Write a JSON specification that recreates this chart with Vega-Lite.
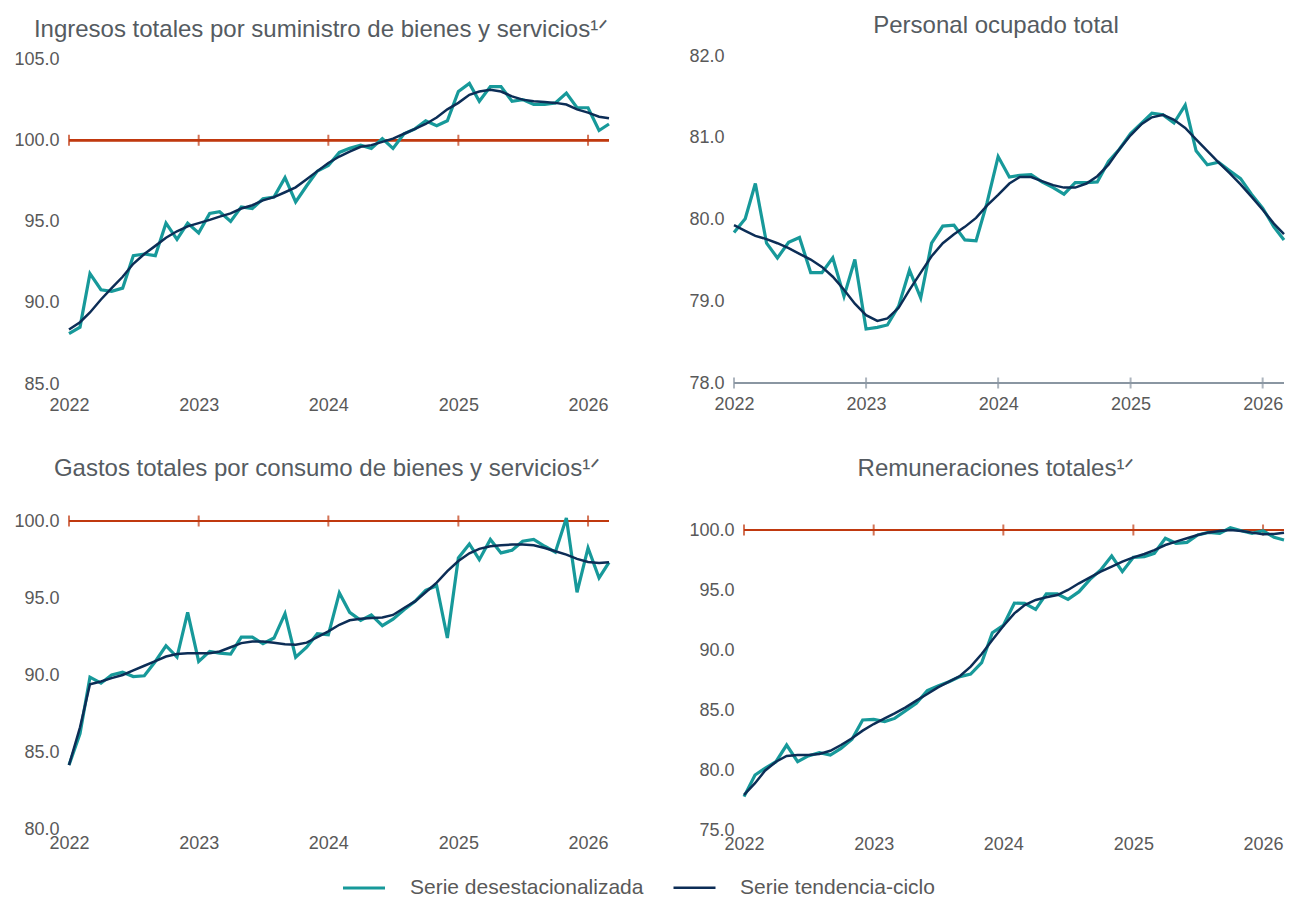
{
"$schema": "https://vega.github.io/schema/vega-lite/v6.json",
"padding": {"left": 13, "top": 14, "right": 0, "bottom": 0},
"autosize": {"type": "pad"},
"background": "white",
"spacing": 465,
"bounds": "flush",
"config": {
  "font": "Liberation Sans",
  "view": {"stroke": null},
  "title": {"fontSize": 24, "fontWeight": "normal", "color": "#555b61", "baseline": "alphabetic", "anchor": "middle"},
  "axisY": {"domain": false, "ticks": false, "gridDash": [2, 2], "gridColor": "#c4c9d1", "gridWidth": 1, "labelFontSize": 18, "labelColor": "#595959", "labelPadding": 10, "format": ".1f", "title": null},
  "axisX": {"grid": false, "domain": false, "ticks": false, "labelFontSize": 18, "labelColor": "#595959", "labelPadding": 12, "format": "%Y", "labelFlush": false, "title": null}
},
"datasets": {
  "years": [{"d": "2022-01-01"}, {"d": "2023-01-01"}, {"d": "2024-01-01"}, {"d": "2025-01-01"}, {"d": "2026-01-01"}],
  "series": [
{"d":"2022-01-01","serie":"Serie desestacionalizada","ing":88.1,"per":79.84,"gas":84.15,"rem":77.78},
{"d":"2022-02-01","serie":"Serie desestacionalizada","ing":88.5,"per":80.01,"gas":86.2,"rem":79.58},
{"d":"2022-03-01","serie":"Serie desestacionalizada","ing":91.8,"per":80.44,"gas":89.86,"rem":80.14},
{"d":"2022-04-01","serie":"Serie desestacionalizada","ing":90.8,"per":79.71,"gas":89.47,"rem":80.69},
{"d":"2022-05-01","serie":"Serie desestacionalizada","ing":90.7,"per":79.53,"gas":90.0,"rem":82.08},
{"d":"2022-06-01","serie":"Serie desestacionalizada","ing":90.9,"per":79.72,"gas":90.18,"rem":80.69},
{"d":"2022-07-01","serie":"Serie desestacionalizada","ing":92.9,"per":79.78,"gas":89.9,"rem":81.17},
{"d":"2022-08-01","serie":"Serie desestacionalizada","ing":93.0,"per":79.35,"gas":89.95,"rem":81.44},
{"d":"2022-09-01","serie":"Serie desestacionalizada","ing":92.9,"per":79.35,"gas":90.88,"rem":81.25},
{"d":"2022-10-01","serie":"Serie desestacionalizada","ing":94.9,"per":79.53,"gas":91.9,"rem":81.8},
{"d":"2022-11-01","serie":"Serie desestacionalizada","ing":93.9,"per":79.06,"gas":91.16,"rem":82.56},
{"d":"2022-12-01","serie":"Serie desestacionalizada","ing":94.9,"per":79.51,"gas":94.07,"rem":84.17},
{"d":"2023-01-01","serie":"Serie desestacionalizada","ing":94.3,"per":78.66,"gas":90.88,"rem":84.22},
{"d":"2023-02-01","serie":"Serie desestacionalizada","ing":95.5,"per":78.68,"gas":91.53,"rem":84.03},
{"d":"2023-03-01","serie":"Serie desestacionalizada","ing":95.6,"per":78.71,"gas":91.42,"rem":84.3},
{"d":"2023-04-01","serie":"Serie desestacionalizada","ing":95.0,"per":78.94,"gas":91.36,"rem":84.94},
{"d":"2023-05-01","serie":"Serie desestacionalizada","ing":95.9,"per":79.38,"gas":92.46,"rem":85.56},
{"d":"2023-06-01","serie":"Serie desestacionalizada","ing":95.8,"per":79.04,"gas":92.46,"rem":86.61},
{"d":"2023-07-01","serie":"Serie desestacionalizada","ing":96.4,"per":79.71,"gas":92.03,"rem":87.0},
{"d":"2023-08-01","serie":"Serie desestacionalizada","ing":96.5,"per":79.92,"gas":92.4,"rem":87.36},
{"d":"2023-09-01","serie":"Serie desestacionalizada","ing":97.7,"per":79.93,"gas":93.98,"rem":87.78},
{"d":"2023-10-01","serie":"Serie desestacionalizada","ing":96.2,"per":79.75,"gas":91.16,"rem":88.0},
{"d":"2023-11-01","serie":"Serie desestacionalizada","ing":97.2,"per":79.74,"gas":91.81,"rem":88.94},
{"d":"2023-12-01","serie":"Serie desestacionalizada","ing":98.1,"per":80.2,"gas":92.68,"rem":91.44},
{"d":"2024-01-01","serie":"Serie desestacionalizada","ing":98.45,"per":80.77,"gas":92.61,"rem":92.05},
{"d":"2024-02-01","serie":"Serie desestacionalizada","ing":99.25,"per":80.52,"gas":95.33,"rem":93.9},
{"d":"2024-03-01","serie":"Serie desestacionalizada","ing":99.5,"per":80.54,"gas":94.07,"rem":93.89},
{"d":"2024-04-01","serie":"Serie desestacionalizada","ing":99.7,"per":80.55,"gas":93.55,"rem":93.39},
{"d":"2024-05-01","serie":"Serie desestacionalizada","ing":99.5,"per":80.46,"gas":93.9,"rem":94.67},
{"d":"2024-06-01","serie":"Serie desestacionalizada","ing":100.1,"per":80.39,"gas":93.2,"rem":94.67},
{"d":"2024-07-01","serie":"Serie desestacionalizada","ing":99.5,"per":80.31,"gas":93.63,"rem":94.22},
{"d":"2024-08-01","serie":"Serie desestacionalizada","ing":100.4,"per":80.45,"gas":94.24,"rem":94.86},
{"d":"2024-09-01","serie":"Serie desestacionalizada","ing":100.7,"per":80.45,"gas":94.78,"rem":95.89},
{"d":"2024-10-01","serie":"Serie desestacionalizada","ing":101.2,"per":80.46,"gas":95.5,"rem":96.67},
{"d":"2024-11-01","serie":"Serie desestacionalizada","ing":100.9,"per":80.71,"gas":95.8,"rem":97.83},
{"d":"2024-12-01","serie":"Serie desestacionalizada","ing":101.2,"per":80.86,"gas":92.4,"rem":96.53},
{"d":"2025-01-01","serie":"Serie desestacionalizada","ing":103.0,"per":81.05,"gas":97.6,"rem":97.72},
{"d":"2025-02-01","serie":"Serie desestacionalizada","ing":103.5,"per":81.18,"gas":98.51,"rem":97.78},
{"d":"2025-03-01","serie":"Serie desestacionalizada","ing":102.4,"per":81.3,"gas":97.49,"rem":98.06},
{"d":"2025-04-01","serie":"Serie desestacionalizada","ing":103.3,"per":81.28,"gas":98.8,"rem":99.31},
{"d":"2025-05-01","serie":"Serie desestacionalizada","ing":103.3,"per":81.18,"gas":97.93,"rem":98.89},
{"d":"2025-06-01","serie":"Serie desestacionalizada","ing":102.4,"per":81.4,"gas":98.1,"rem":98.97},
{"d":"2025-07-01","serie":"Serie desestacionalizada","ing":102.5,"per":80.84,"gas":98.69,"rem":99.58},
{"d":"2025-08-01","serie":"Serie desestacionalizada","ing":102.2,"per":80.67,"gas":98.8,"rem":99.8},
{"d":"2025-09-01","serie":"Serie desestacionalizada","ing":102.2,"per":80.7,"gas":98.36,"rem":99.72},
{"d":"2025-10-01","serie":"Serie desestacionalizada","ing":102.3,"per":80.6,"gas":97.97,"rem":100.19},
{"d":"2025-11-01","serie":"Serie desestacionalizada","ing":102.9,"per":80.5,"gas":100.2,"rem":99.94},
{"d":"2025-12-01","serie":"Serie desestacionalizada","ing":102.0,"per":80.31,"gas":95.37,"rem":99.72},
{"d":"2026-01-01","serie":"Serie desestacionalizada","ing":102.0,"per":80.14,"gas":98.25,"rem":99.94},
{"d":"2026-02-01","serie":"Serie desestacionalizada","ing":100.6,"per":79.91,"gas":96.3,"rem":99.39},
{"d":"2026-03-01","serie":"Serie desestacionalizada","ing":101.0,"per":79.75,"gas":97.32,"rem":99.17},
{"d":"2022-01-01","serie":"Serie tendencia-ciclo","ing":88.35,"per":79.93,"gas":84.15,"rem":77.92},
{"d":"2022-02-01","serie":"Serie tendencia-ciclo","ing":88.8,"per":79.86,"gas":86.6,"rem":78.9},
{"d":"2022-03-01","serie":"Serie tendencia-ciclo","ing":89.4,"per":79.8,"gas":89.4,"rem":79.94},
{"d":"2022-04-01","serie":"Serie tendencia-ciclo","ing":90.2,"per":79.76,"gas":89.58,"rem":80.69},
{"d":"2022-05-01","serie":"Serie tendencia-ciclo","ing":90.9,"per":79.71,"gas":89.8,"rem":81.17},
{"d":"2022-06-01","serie":"Serie tendencia-ciclo","ing":91.6,"per":79.65,"gas":90.0,"rem":81.25},
{"d":"2022-07-01","serie":"Serie tendencia-ciclo","ing":92.4,"per":79.58,"gas":90.3,"rem":81.25},
{"d":"2022-08-01","serie":"Serie tendencia-ciclo","ing":93.0,"per":79.51,"gas":90.6,"rem":81.33},
{"d":"2022-09-01","serie":"Serie tendencia-ciclo","ing":93.5,"per":79.42,"gas":90.9,"rem":81.6},
{"d":"2022-10-01","serie":"Serie tendencia-ciclo","ing":94.0,"per":79.3,"gas":91.2,"rem":82.08},
{"d":"2022-11-01","serie":"Serie tendencia-ciclo","ing":94.4,"per":79.14,"gas":91.36,"rem":82.64},
{"d":"2022-12-01","serie":"Serie tendencia-ciclo","ing":94.7,"per":78.97,"gas":91.42,"rem":83.28},
{"d":"2023-01-01","serie":"Serie tendencia-ciclo","ing":94.9,"per":78.83,"gas":91.42,"rem":83.83},
{"d":"2023-02-01","serie":"Serie tendencia-ciclo","ing":95.1,"per":78.76,"gas":91.42,"rem":84.3},
{"d":"2023-03-01","serie":"Serie tendencia-ciclo","ing":95.3,"per":78.79,"gas":91.53,"rem":84.72},
{"d":"2023-04-01","serie":"Serie tendencia-ciclo","ing":95.5,"per":78.92,"gas":91.8,"rem":85.22},
{"d":"2023-05-01","serie":"Serie tendencia-ciclo","ing":95.8,"per":79.14,"gas":92.07,"rem":85.78},
{"d":"2023-06-01","serie":"Serie tendencia-ciclo","ing":96.0,"per":79.35,"gas":92.18,"rem":86.33},
{"d":"2023-07-01","serie":"Serie tendencia-ciclo","ing":96.3,"per":79.55,"gas":92.18,"rem":86.89},
{"d":"2023-08-01","serie":"Serie tendencia-ciclo","ing":96.5,"per":79.71,"gas":92.1,"rem":87.36},
{"d":"2023-09-01","serie":"Serie tendencia-ciclo","ing":96.8,"per":79.82,"gas":92.0,"rem":87.83},
{"d":"2023-10-01","serie":"Serie tendencia-ciclo","ing":97.1,"per":79.91,"gas":91.96,"rem":88.61},
{"d":"2023-11-01","serie":"Serie tendencia-ciclo","ing":97.6,"per":80.02,"gas":92.1,"rem":89.67},
{"d":"2023-12-01","serie":"Serie tendencia-ciclo","ing":98.1,"per":80.17,"gas":92.46,"rem":90.83},
{"d":"2024-01-01","serie":"Serie tendencia-ciclo","ing":98.6,"per":80.3,"gas":92.83,"rem":92.0},
{"d":"2024-02-01","serie":"Serie tendencia-ciclo","ing":99.0,"per":80.44,"gas":93.26,"rem":93.05},
{"d":"2024-03-01","serie":"Serie tendencia-ciclo","ing":99.3,"per":80.52,"gas":93.55,"rem":93.75},
{"d":"2024-04-01","serie":"Serie tendencia-ciclo","ing":99.6,"per":80.52,"gas":93.65,"rem":94.17},
{"d":"2024-05-01","serie":"Serie tendencia-ciclo","ing":99.7,"per":80.47,"gas":93.7,"rem":94.39},
{"d":"2024-06-01","serie":"Serie tendencia-ciclo","ing":99.9,"per":80.42,"gas":93.74,"rem":94.58},
{"d":"2024-07-01","serie":"Serie tendencia-ciclo","ing":100.1,"per":80.39,"gas":93.9,"rem":95.0},
{"d":"2024-08-01","serie":"Serie tendencia-ciclo","ing":100.4,"per":80.39,"gas":94.35,"rem":95.56},
{"d":"2024-09-01","serie":"Serie tendencia-ciclo","ing":100.7,"per":80.44,"gas":94.78,"rem":96.06},
{"d":"2024-10-01","serie":"Serie tendencia-ciclo","ing":101.0,"per":80.53,"gas":95.37,"rem":96.53},
{"d":"2024-11-01","serie":"Serie tendencia-ciclo","ing":101.4,"per":80.67,"gas":96.0,"rem":96.94},
{"d":"2024-12-01","serie":"Serie tendencia-ciclo","ing":101.9,"per":80.86,"gas":96.74,"rem":97.36},
{"d":"2025-01-01","serie":"Serie tendencia-ciclo","ing":102.3,"per":81.03,"gas":97.4,"rem":97.72},
{"d":"2025-02-01","serie":"Serie tendencia-ciclo","ing":102.8,"per":81.17,"gas":97.9,"rem":98.0},
{"d":"2025-03-01","serie":"Serie tendencia-ciclo","ing":103.0,"per":81.25,"gas":98.19,"rem":98.33},
{"d":"2025-04-01","serie":"Serie tendencia-ciclo","ing":103.1,"per":81.28,"gas":98.36,"rem":98.75},
{"d":"2025-05-01","serie":"Serie tendencia-ciclo","ing":103.0,"per":81.22,"gas":98.43,"rem":99.03},
{"d":"2025-06-01","serie":"Serie tendencia-ciclo","ing":102.7,"per":81.12,"gas":98.47,"rem":99.31},
{"d":"2025-07-01","serie":"Serie tendencia-ciclo","ing":102.5,"per":80.98,"gas":98.47,"rem":99.58},
{"d":"2025-08-01","serie":"Serie tendencia-ciclo","ing":102.4,"per":80.84,"gas":98.43,"rem":99.8},
{"d":"2025-09-01","serie":"Serie tendencia-ciclo","ing":102.35,"per":80.7,"gas":98.25,"rem":99.92},
{"d":"2025-10-01","serie":"Serie tendencia-ciclo","ing":102.3,"per":80.57,"gas":98.04,"rem":100.0},
{"d":"2025-11-01","serie":"Serie tendencia-ciclo","ing":102.2,"per":80.43,"gas":97.82,"rem":99.92},
{"d":"2025-12-01","serie":"Serie tendencia-ciclo","ing":101.9,"per":80.28,"gas":97.54,"rem":99.78},
{"d":"2026-01-01","serie":"Serie tendencia-ciclo","ing":101.7,"per":80.12,"gas":97.34,"rem":99.64},
{"d":"2026-02-01","serie":"Serie tendencia-ciclo","ing":101.45,"per":79.95,"gas":97.28,"rem":99.67},
{"d":"2026-03-01","serie":"Serie tendencia-ciclo","ing":101.35,"per":79.82,"gas":97.32,"rem":99.78}
  ]
},
"vconcat": [
 {"hconcat": [
  {"width": 540, "height": 328,
   "title": {"text": "Ingresos totales por suministro de bienes y servicios¹ᐟ", "offset": 8, "dx": -18},
   "layer": [
    {"data": {"name": "years"}, "mark": {"type": "rule", "color": "#c0390f", "strokeWidth": 2}, "encoding": {"y": {"datum": 100, "type": "quantitative", "scale": {"domain": [85, 105.185], "nice": false, "zero": false}, "axis": {"values": [85, 90, 95, 100, 105]}}}},
    {"data": {"name": "years"}, "mark": {"type": "tick", "orient": "vertical", "color": "#c0390f", "size": 11, "thickness": 2}, "encoding": {"x": {"field": "d", "type": "temporal", "scale": {"type": "utc", "domain": [{"year": 2022, "month": 1, "date": 1, "utc": true}, {"year": 2026, "month": 3, "date": 1, "utc": true}]}, "axis": {"values": [{"year": 2022, "month": 1, "date": 1, "utc": true}, {"year": 2023, "month": 1, "date": 1, "utc": true}, {"year": 2024, "month": 1, "date": 1, "utc": true}, {"year": 2025, "month": 1, "date": 1, "utc": true}, {"year": 2026, "month": 1, "date": 1, "utc": true}]}}, "y": {"datum": 100, "type": "quantitative"}}},
    {"data": {"name": "series"}, "mark": {"type": "line"}, "encoding": {"x": {"field": "d", "type": "temporal"}, "y": {"field": "ing", "type": "quantitative"}, "color": {"field": "serie", "type": "nominal", "scale": {"domain": ["Serie desestacionalizada", "Serie tendencia-ciclo"], "range": ["#17999a", "#0c2d56"]}, "legend": {"orient": "none", "legendX": 272, "legendY": 809, "direction": "horizontal", "title": null, "symbolType": "stroke", "symbolSize": 1764, "symbolStrokeWidth": 3, "labelFontSize": 21, "labelColor": "#595959", "labelOffset": 23, "labelLimit": 400, "columnPadding": 24}}, "strokeWidth": {"field": "serie", "type": "nominal", "scale": {"domain": ["Serie desestacionalizada", "Serie tendencia-ciclo"], "range": [3.2, 2.5]}, "legend": null}}}
   ]},
  {"width": 550, "height": 327,
   "title": {"text": "Personal ocupado total", "offset": 9, "dx": -13},
   "layer": [
    {"data": {"name": "years"}, "mark": {"type": "rule", "color": "#8a96a2", "strokeWidth": 2}, "encoding": {"y": {"datum": 78, "type": "quantitative", "scale": {"domain": [78, 82], "nice": false, "zero": false}, "axis": {"values": [78, 79, 80, 81, 82]}}}},
    {"data": {"name": "years"}, "mark": {"type": "tick", "orient": "vertical", "color": "#8a96a2", "size": 11, "thickness": 2}, "encoding": {"x": {"field": "d", "type": "temporal", "scale": {"type": "utc", "domain": [{"year": 2022, "month": 1, "date": 1, "utc": true}, {"year": 2026, "month": 3, "date": 1, "utc": true}]}, "axis": {"values": [{"year": 2022, "month": 1, "date": 1, "utc": true}, {"year": 2023, "month": 1, "date": 1, "utc": true}, {"year": 2024, "month": 1, "date": 1, "utc": true}, {"year": 2025, "month": 1, "date": 1, "utc": true}, {"year": 2026, "month": 1, "date": 1, "utc": true}]}}, "y": {"datum": 78, "type": "quantitative"}}},
    {"data": {"name": "series"}, "mark": {"type": "line"}, "encoding": {"x": {"field": "d", "type": "temporal"}, "y": {"field": "per", "type": "quantitative"}, "color": {"field": "serie", "type": "nominal"}, "strokeWidth": {"field": "serie", "type": "nominal", "legend": null}}}
   ]}
 ], "spacing": 125, "bounds": "flush"},
 {"hconcat": [
  {"width": 540, "height": 308,
   "title": {"text": "Gastos totales por consumo de bienes y servicios¹ᐟ", "offset": 31, "dx": -12},
   "layer": [
    {"data": {"name": "years"}, "mark": {"type": "rule", "color": "#c0390f", "strokeWidth": 2}, "encoding": {"y": {"datum": 100, "type": "quantitative", "scale": {"domain": [80, 100], "nice": false, "zero": false}, "axis": {"values": [80, 85, 90, 95, 100]}}}},
    {"data": {"name": "years"}, "mark": {"type": "tick", "orient": "vertical", "color": "#c0390f", "size": 11, "thickness": 2}, "encoding": {"x": {"field": "d", "type": "temporal", "scale": {"type": "utc", "domain": [{"year": 2022, "month": 1, "date": 1, "utc": true}, {"year": 2026, "month": 3, "date": 1, "utc": true}]}, "axis": {"labelPadding": 5, "values": [{"year": 2022, "month": 1, "date": 1, "utc": true}, {"year": 2023, "month": 1, "date": 1, "utc": true}, {"year": 2024, "month": 1, "date": 1, "utc": true}, {"year": 2025, "month": 1, "date": 1, "utc": true}, {"year": 2026, "month": 1, "date": 1, "utc": true}]}}, "y": {"datum": 100, "type": "quantitative"}}},
    {"data": {"name": "series"}, "mark": {"type": "line"}, "encoding": {"x": {"field": "d", "type": "temporal"}, "y": {"field": "gas", "type": "quantitative"}, "color": {"field": "serie", "type": "nominal"}, "strokeWidth": {"field": "serie", "type": "nominal", "legend": null}}}
   ]},
  {"width": 540, "height": 309,
   "title": {"text": "Remuneraciones totales¹ᐟ", "offset": 40, "dx": -18},
   "layer": [
    {"data": {"name": "years"}, "mark": {"type": "rule", "color": "#c0390f", "strokeWidth": 2}, "encoding": {"y": {"datum": 100, "type": "quantitative", "scale": {"domain": [75, 100.75], "nice": false, "zero": false}, "axis": {"values": [75, 80, 85, 90, 95, 100]}}}},
    {"data": {"name": "years"}, "mark": {"type": "tick", "orient": "vertical", "color": "#c0390f", "size": 11, "thickness": 2}, "encoding": {"x": {"field": "d", "type": "temporal", "scale": {"type": "utc", "domain": [{"year": 2022, "month": 1, "date": 1, "utc": true}, {"year": 2026, "month": 3, "date": 1, "utc": true}]}, "axis": {"labelPadding": 5, "values": [{"year": 2022, "month": 1, "date": 1, "utc": true}, {"year": 2023, "month": 1, "date": 1, "utc": true}, {"year": 2024, "month": 1, "date": 1, "utc": true}, {"year": 2025, "month": 1, "date": 1, "utc": true}, {"year": 2026, "month": 1, "date": 1, "utc": true}]}}, "y": {"datum": 100, "type": "quantitative"}}},
    {"data": {"name": "series"}, "mark": {"type": "line"}, "encoding": {"x": {"field": "d", "type": "temporal"}, "y": {"field": "rem", "type": "quantitative"}, "color": {"field": "serie", "type": "nominal"}, "strokeWidth": {"field": "serie", "type": "nominal", "legend": null}}}
   ]}
 ], "spacing": 135, "bounds": "flush"}
]
}
